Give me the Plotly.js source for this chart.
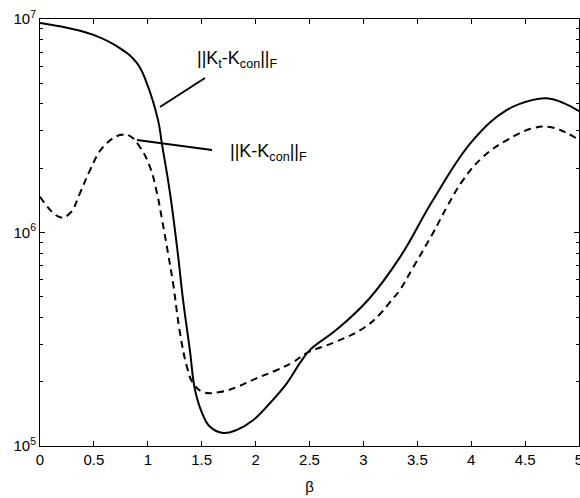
<!DOCTYPE html>
<html>
<head>
<meta charset="utf-8">
<script src="https://cdn.plot.ly/plotly-3.0.1.min.js"></script>
<style>html,body{margin:0;padding:0;background:#fff;}#chart{width:580px;height:498px;}</style>
</head>
<body>
<div id="chart"></div>
<script>
// ||Kt - Kcon||_F (solid)
var betaSolid = [0, 0.25, 0.49, 0.74, 0.90, 0.99, 1.095, 1.13, 1.206, 1.28, 1.327, 1.39, 1.438, 1.503, 1.577, 1.698, 1.827, 1.976, 2.134, 2.291, 2.412, 2.505, 2.746, 3.043, 3.34, 3.646, 4.017, 4.332, 4.573, 4.70, 4.852, 5.0];
var normSolid = [9.58e6, 9.1e6, 8.45e6, 7.31e6, 6.22e6, 5.01e6, 3.36e6, 2.62e6, 1.53e6, 7.85e5, 4.83e5, 2.82e5, 1.83e5, 1.43e5, 1.23e5, 1.15e5, 1.19e5, 1.32e5, 1.59e5, 1.97e5, 2.45e5, 2.82e5, 3.49e5, 4.83e5, 7.67e5, 1.42e6, 2.71e6, 3.75e6, 4.18e6, 4.25e6, 4.05e6, 3.70e6];

// ||K - Kcon||_F (dashed)
var betaDash = [0, 0.186, 0.278, 0.371, 0.464, 0.584, 0.742, 0.835, 0.928, 1.02, 1.085, 1.132, 1.187, 1.234, 1.299, 1.364, 1.419, 1.512, 1.67, 1.827, 2.013, 2.198, 2.347, 2.477, 2.746, 3.006, 3.154, 3.247, 3.34, 3.46, 3.646, 3.776, 3.924, 4.11, 4.332, 4.573, 4.731, 4.889, 5.0];
var normDash = [1.47e6, 1.18e6, 1.23e6, 1.53e6, 1.96e6, 2.51e6, 2.86e6, 2.83e6, 2.51e6, 2.03e6, 1.53e6, 1.15e6, 8.02e5, 5.80e5, 3.38e5, 2.34e5, 1.97e5, 1.79e5, 1.79e5, 1.89e5, 2.08e5, 2.27e5, 2.47e5, 2.73e5, 3.08e5, 3.58e5, 4.15e5, 4.72e5, 5.40e5, 6.85e5, 9.95e5, 1.32e6, 1.76e6, 2.26e6, 2.71e6, 3.08e6, 3.12e6, 2.92e6, 2.71e6];

var xTickVals = [0, 0.5, 1, 1.5, 2, 2.5, 3, 3.5, 4, 4.5, 5];
var xTickText = ['0', '0.5', '1', '1.5', '2', '2.5', '3', '3.5', '4', '4.5', '5'];
var yTickVals = [1e5, 1e6, 1e7];
var yTickText = ['10<sup>5</sup>', '10<sup>6</sup>', '10<sup>7</sup>'];
var yMinorVals = [2e5,3e5,4e5,5e5,6e5,7e5,8e5,9e5,2e6,3e6,4e6,5e6,6e6,7e6,8e6,9e6];
var labelSolid = '||K<sub>t</sub>-K<sub>con</sub>||<sub>F</sub>';
var labelDash = '||K-K<sub>con</sub>||<sub>F</sub>';

var font = 'Liberation Sans, Arial, Helvetica, sans-serif';

var traces = [
  {x: betaSolid, y: normSolid, type: 'scatter', mode: 'lines',
   line: {color: '#000', width: 2, shape: 'spline', smoothing: 1.2}, hoverinfo: 'skip'},
  {x: betaDash, y: normDash, type: 'scatter', mode: 'lines',
   line: {color: '#000', width: 2, dash: '7px,5px', shape: 'spline', smoothing: 1.2}, hoverinfo: 'skip'}
];

var layout = {
  width: 580, height: 498,
  margin: {l: 40, r: 1, t: 19, b: 52},
  paper_bgcolor: '#fff', plot_bgcolor: '#fff',
  showlegend: false,
  font: {family: font, size: 15, color: '#000'},
  xaxis: {
    range: [0, 5], tickmode: 'array', tickvals: xTickVals, ticktext: xTickText,
    ticks: 'inside', ticklen: 5, tickwidth: 1, tickcolor: '#000',
    showline: true, linecolor: '#000', linewidth: 1, mirror: 'ticks',
    showgrid: false, zeroline: false, ticklabeloverflow: 'allow',
    tickfont: {family: font, size: 15, color: '#000'},
    title: {text: 'β', font: {family: font, size: 15, color: '#000'}, standoff: 14}
  },
  yaxis: {
    type: 'log', range: [5, 7], tickmode: 'array', tickvals: yTickVals, ticktext: yTickText,
    ticks: 'inside', ticklen: 5, tickwidth: 1, tickcolor: '#000',
    showline: true, linecolor: '#000', linewidth: 1, mirror: 'ticks',
    showgrid: false, zeroline: false,
    tickfont: {family: font, size: 15, color: '#000'},
    minor: {tickmode: 'array', tickvals: yMinorVals, ticks: 'inside', ticklen: 3, tickcolor: '#000', showgrid: false}
  },
  annotations: [
    {xref: 'paper', yref: 'paper', x: 0.2876, y: 0.904, xanchor: 'left', yanchor: 'middle',
     text: labelSolid, showarrow: false, font: {family: font, size: 18, color: '#000'}},
    {xref: 'paper', yref: 'paper', x: 0.3488, y: 0.6885, xanchor: 'left', yanchor: 'middle',
     text: labelDash, showarrow: false, font: {family: font, size: 18, color: '#000'}}
  ],
  shapes: [
    {type: 'line', xref: 'paper', yref: 'paper', x0: 0.3061, y0: 0.8618, x1: 0.2226, y1: 0.7939,
     line: {color: '#000', width: 2}},
    {type: 'line', xref: 'paper', yref: 'paper', x0: 0.18, y0: 0.7166, x1: 0.3191, y1: 0.6932,
     line: {color: '#000', width: 2}}
  ]
};

Plotly.newPlot('chart', traces, layout, {displayModeBar: false, staticPlot: true});
</script>
</body>
</html>
